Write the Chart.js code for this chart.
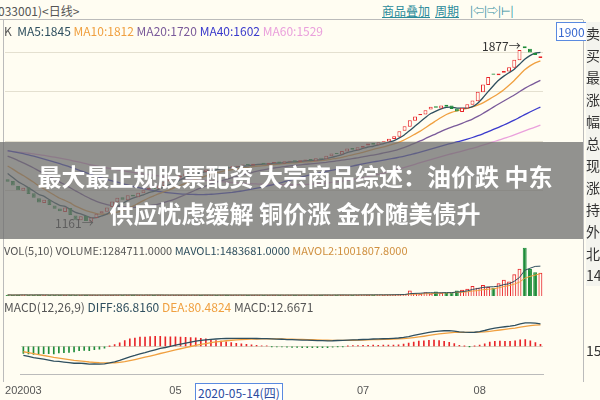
<!DOCTYPE html>
<html><head><meta charset="utf-8">
<script src="https://cdn.jsdelivr.net/npm/chart.js@4"></script>
<style>
body{margin:0;width:600px;height:400px;overflow:hidden;background:#fffdf2;font-family:"Noto Sans CJK SC","DejaVu Sans",sans-serif;position:relative}
.abs{position:absolute;white-space:nowrap}
canvas{display:block}
</style></head><body>
<div class="abs" style="left:-2px;top:2px;font-size:12px;color:#555">033001)&lt;日线&gt;</div>
<div class="abs" style="left:382px;top:2px;font-size:12px;color:#2a8a9a;text-decoration:underline">商品叠加</div>
<div class="abs" style="left:435px;top:2px;font-size:12px;color:#2a8a9a;text-decoration:underline">周期</div>
<div class="abs" style="left:470px;top:2px;font-size:11px;color:#2a8a9a">|⇦|⇨|⊢|</div>
<div class="abs" style="left:0;top:19px;width:583px;border-top:1px solid #bbb"></div>
<div class="abs" style="left:3px;top:20px;height:362px;border-left:1px solid #bbb"></div>
<div class="abs" style="left:583px;top:20px;height:362px;border-left:1px solid #bbb"></div>

<div class="abs" style="left:3px;top:20px"><canvas id="price" width="580" height="222"></canvas></div>
<div class="abs" style="left:3px;top:242px"><canvas id="vol" width="580" height="54"></canvas></div>
<div class="abs" style="left:3px;top:296px"><canvas id="macd" width="580" height="104"></canvas></div>

<div class="abs" style="left:4px;top:22px;font-size:12px"><span style="color:#555">K</span>&nbsp; <span style="color:#2f4f5f">MA5:1845</span> <span style="color:#f0a040">MA10:1812</span> <span style="color:#7a5a9a">MA20:1720</span> <span style="color:#3a3acc">MA40:1602</span> <span style="color:#eaa0dc">MA60:1529</span></div>
<div class="abs" style="left:556px;top:22px;font-size:12px;color:#3a6ad0;border:1px solid #5a8ae0;padding:0 1px;background:#fff">1900</div>
<div class="abs" style="left:482px;top:37px;font-size:12px;color:#333">1877→</div>
<div class="abs" style="left:55px;top:214px;font-size:12px;color:#333">1161→</div>
<div class="abs" style="left:4px;top:242px;font-size:11px"><span style="color:#555">VOL(5,10) VOLUME:1284711.0000</span> <span style="color:#2f4f5f">MAVOL1:1483681.0000</span> <span style="color:#d09040">MAVOL2:1001807.8000</span></div>
<div class="abs" style="left:4px;top:298px;font-size:12px"><span style="color:#555">MACD(12,26,9)</span> <span style="color:#2f4f5f">DIFF:86.8160</span> <span style="color:#f0a040">DEA:80.4824</span> <span style="color:#555">MACD:12.6671</span></div>
<div class="abs" style="left:195px;top:383px;font-size:12px;color:#2a4aa0;border:1px solid #5a8ae0;padding:0 2px;background:#fff">2020-05-14(四)</div>
<div class="abs" style="left:586px;top:22px;width:14px;font-size:14px;line-height:22px;color:#333;background:#f4f4ee">卖<br>买<br>最<br>涨<br>幅<br>总<br>现<br>涨<br>持<br>外<br>北<br>14</div>
<div class="abs" style="left:586px;top:340px;font-size:14px;color:#333">15</div>

<div class="abs" style="left:0;top:142px;width:583px;height:97px;background:rgba(110,110,110,0.75)"></div>
<div class="abs" style="left:0;top:157px;width:590px;text-align:center;font-size:24px;font-weight:bold;color:#fff;line-height:37px">最大最正规股票配资 大宗商品综述：油价跌 中东<br>供应忧虑缓解 铜价涨 金价随美债升</div>

<script>
// earlier closes, only used to warm up the moving averages
var priorCloses = [1420,1425,1430,1428,1435,1440,1438,1445,1450,1448,1455,1460,1458,1462,1465,1470,1468,1472,1475,1478,
1480,1476,1482,1485,1480,1478,1483,1486,1482,1479,1484,1488,1485,1490,1487,1484,1480,1486,1490,1492,
1488,1485,1490,1494,1490,1486,1480,1475,1470,1462,1455,1448,1440,1430,1420,1410,1398,1385,1370,1352];
var closes = [1335,1320,1300,1310,1285,1270,1250,1262,1240,1225,1215,1230,1200,1180,1195,1175,1190,
1205,1215,1230,1255,1270,1262,1280,1275,1290,1300,1310,1305,1320,1335,
1345,1350,1360,1368,1372,1380,1376,1385,1390,1388,1395,1392,1398,1400,1405,
1402,1408,1410,1406,1412,1415,1410,1418,1420,1416,1422,1425,1420,1430,1428,
1440,1450,1448,1460,1470,1465,1475,1480,1490,1485,1495,1500,1510,1520,1540,
1560,1585,1600,1610,1625,1640,1635,1645,1640,1630,1620,1635,1650,1665,1700,
1730,1760,1770,1775,1785,1800,1830,1870,1877,1860,1850,1845];
var opens = [1345,1338,1318,1298,1312,1288,1268,1248,1262,1238,1226,1212,1228,1198,1178,1196,1172,
1188,1206,1213,1232,1252,1272,1260,1282,1272,1288,1302,1312,1306,1318,
1336,1347,1352,1358,1370,1374,1382,1374,1386,1392,1386,1397,1390,1396,1401,
1407,1400,1409,1412,1404,1410,1417,1408,1416,1422,1414,1420,1427,1418,1432,
1426,1438,1452,1446,1458,1472,1463,1473,1482,1492,1483,1497,1498,1508,1518,
1542,1558,1583,1605,1608,1628,1642,1632,1648,1645,1632,1618,1632,1648,1662,
1698,1728,1775,1768,1778,1783,1798,1828,1885,1875,1858,1838];
var volumes = [6,5,6,7,5,6,6,5,6,5,6,5,6,5,5,6,5,
5,6,5,6,6,5,6,5,6,5,6,5,6,5,
5,6,5,5,6,5,5,6,5,5,6,5,5,6,5,
5,5,6,5,5,6,5,5,6,5,5,6,5,5,6,
6,5,6,6,5,6,6,7,6,6,7,6,7,8,9,
10,30,15,12,20,14,25,18,16,20,30,35,40,55,45,
60,50,45,70,90,80,120,150,265,148,130,128];
var tickLabels = {0:'202003',30:'05',67:'07',90:'08'};
var maPeriods = [5,10,20,40,60];
var maColors = ['#2f4f5f','#f0a040','#7a5a9a','#3a3acc','#eaa0dc'];

var labels = closes.map(function(c,i){ return i; });
var UP = '#e8262a', DOWN = '#1e8c3a';
var allCloses = priorCloses.concat(closes);
var skip = priorCloses.length;

function ma(arr, n) {
    var out = [];
    for(var i=0;i<arr.length;i++) {
        var s=0, k=0;
        for(var j=Math.max(0,i-n+1);j<=i;j++){ s+=arr[j]; k++; }
        out.push(s/k);
    }
    return out;
}
function ema(arr, n) {
    var out=[arr[0]], a=2/(n+1);
    for(var i=1;i<arr.length;i++) out.push(a*arr[i]+(1-a)*out[i-1]);
    return out;
}

var candles = closes.map(function(c,i){ return [opens[i], c]; });
var candleColors = closes.map(function(c,i){ return c>=opens[i] ? UP : DOWN; });
var candleFill = closes.map(function(c,i){ return c>=opens[i] ? '#fffdf2' : DOWN; });

var priceSets = [{
    type:'bar', data:candles, backgroundColor:candleFill, borderColor:candleColors,
    borderWidth:1, borderSkipped:false, barPercentage:0.75, categoryPercentage:1, grouped:false, order:0
}];
for(var m=0;m<maPeriods.length;m++) {
    priceSets.push({type:'line', data:ma(allCloses,maPeriods[m]).slice(skip), borderColor:maColors[m], borderWidth:1.3, pointRadius:0, tension:0.2, order:1});
}

var noLegend = {legend:{display:false}, tooltip:{enabled:false}};
var hiddenX = {offset:true, display:false, grid:{display:false}};

new Chart(document.getElementById('price'), {
    type:'bar',
    data:{labels:labels, datasets:priceSets},
    options:{responsive:false, animation:false, plugins:noLegend,
        layout:{padding:{left:2,right:40}},
        scales:{x:hiddenX,
            y:{min:1090,max:1992,display:true,ticks:{display:false},border:{display:false},
               afterBuildTicks:function(ax){ ax.ticks=[{value:1300},{value:1500},{value:1700},{value:1860}]; },
               grid:{color:'#e4e0d0',drawTicks:false}}}}
});

var volColors = closes.map(function(c,i){ return c>=opens[i] ? UP : DOWN; });
var volFill = closes.map(function(c,i){ return c>=opens[i] ? 'rgba(0,0,0,0)' : DOWN; });
new Chart(document.getElementById('vol'), {
    type:'bar',
    data:{labels:labels, datasets:[
        {data:volumes, backgroundColor:volFill, borderColor:volColors, borderWidth:1, barPercentage:0.75, categoryPercentage:1, order:2},
        {type:'line', data:ma(volumes,5), borderColor:'#2f4f5f', borderWidth:1, pointRadius:0, order:0},
        {type:'line', data:ma(volumes,10), borderColor:'#f0a040', borderWidth:1, pointRadius:0, order:1}
    ]},
    options:{responsive:false, animation:false, plugins:noLegend,
        layout:{padding:{left:2,right:40,top:4}},
        scales:{x:hiddenX, y:{min:0,max:275,display:false}}}
});

var e12 = ema(allCloses,12), e26 = ema(allCloses,26);
var diffAll = e12.map(function(v,i){ return v-e26[i]; });
var deaAll = ema(diffAll,9);
var diff = diffAll.slice(skip), dea = deaAll.slice(skip);
var hist = diff.map(function(v,i){ return 2*(v-dea[i]); });
new Chart(document.getElementById('macd'), {
    type:'bar',
    data:{labels:labels, datasets:[
        {data:hist, backgroundColor:hist.map(function(v){ return v>=0?UP:DOWN; }), barThickness:1, order:2},
        {type:'line', data:diff, borderColor:'#2f4f5f', borderWidth:1.3, pointRadius:0, order:0},
        {type:'line', data:dea, borderColor:'#f0a040', borderWidth:1.3, pointRadius:0, order:1}
    ]},
    options:{responsive:false, animation:false, plugins:noLegend,
        layout:{padding:{left:2,right:40,top:22}},
        scales:{
            x:{offset:true, grid:{display:false}, border:{color:'#bbb'},
               ticks:{autoSkip:false, maxRotation:0, color:'#555', font:{size:11}, padding:2,
                      callback:function(v,i){ return tickLabels[i] || null; }}},
            y:{display:true,ticks:{display:false},border:{display:false},
               grid:{color:function(c){ return c.tick.value===0?'#d8d4c4':'rgba(0,0,0,0)'; },drawTicks:false}}}}
});
</script>
</body></html>
